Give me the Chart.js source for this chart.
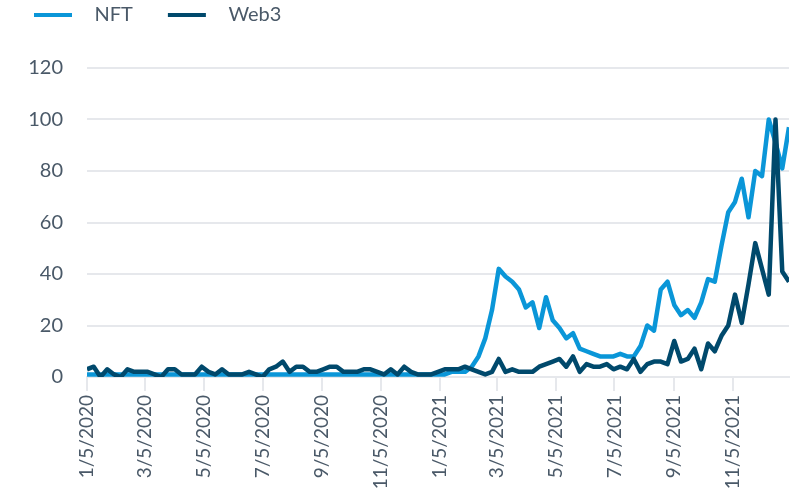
<!DOCTYPE html>
<html>
<head>
<meta charset="utf-8">
<script src="https://cdn.jsdelivr.net/npm/chart.js@4.4.1/dist/chart.umd.min.js"></script>
<style>
  html, body { margin: 0; padding: 0; background: #fff; }
  #wrap { width: 800px; height: 493px; }
</style>
</head>
<body>
<div id="wrap"><canvas id="trendChart"></canvas></div>
<script>
// weekly search interest, first week starting 1/5/2020
const firstWeek = '1/5/2020';

const tickLabels = ['1/5/2020', '3/5/2020', '5/5/2020', '7/5/2020', '9/5/2020', '11/5/2020',
  '1/5/2021', '3/5/2021', '5/5/2021', '7/5/2021', '9/5/2021', '11/5/2021'];

const nft = [
  1, 1, 1, 1, 1, 1, 1, 1, 1, 1,
  1, 1, 1, 1, 1, 1, 1, 1, 1, 1,
  1, 1, 1, 1, 1, 1, 1, 1, 1, 1,
  1, 1, 1, 1, 1, 1, 1, 1, 1, 1,
  1, 1, 1, 1, 1, 1, 1, 1, 1, 1,
  1, 1, 1, 1, 2, 2, 2, 4, 8, 15,
  26, 42, 39, 37, 34, 27, 29, 19, 31, 22,
  19, 15, 17, 11, 10, 9, 8, 8, 8, 9,
  8, 8, 12, 20, 18, 34, 37, 28, 24, 26,
  23, 29, 38, 37, 51, 64, 68, 77, 62, 80,
  78, 100, 91, 81, 97
];

const web3 = [
  3, 4, 0, 3, 1, 0, 3, 2, 2, 2,
  1, 0, 3, 3, 1, 1, 1, 4, 2, 1,
  3, 1, 1, 1, 2, 1, 0, 3, 4, 6,
  2, 4, 4, 2, 2, 3, 4, 4, 2, 2,
  2, 3, 3, 2, 1, 3, 1, 4, 2, 1,
  1, 1, 2, 3, 3, 3, 4, 3, 2, 1,
  2, 7, 2, 3, 2, 2, 2, 4, 5, 6,
  7, 4, 8, 2, 5, 4, 4, 5, 3, 4,
  3, 7, 2, 5, 6, 6, 5, 14, 6, 7,
  11, 3, 13, 10, 16, 20, 32, 21, 36, 52,
  42, 32, 100, 41, 37
];

function dayNumber(label) {
  const [m, d, y] = label.split('/').map(Number);
  return Date.UTC(y, m - 1, d) / 86400000;
}

const start = dayNumber(firstWeek);
const tickDays = tickLabels.map(t => dayNumber(t) - start);
const lastDay = (nft.length - 1) * 7;

const textColor = '#4a5968';
const gridColor = '#e6e8ec';
Chart.defaults.font.family = 'Lato, "Open Sans", sans-serif';
Chart.defaults.color = textColor;

// leave room between the legend and the plot
const legendGap = {
  id: 'legendGap',
  beforeInit(chart) {
    const fit = chart.legend.fit;
    chart.legend.fit = function () {
      fit.call(this);
      this.height += 33;
    };
  }
};

const ctx = document.getElementById('trendChart').getContext('2d');

new Chart(ctx, {
  type: 'line',
  data: {
    datasets: [{
      label: 'NFT',
      data: nft.map((v, i) => ({ x: i * 7, y: v })),
      borderColor: '#0a96d8',
      backgroundColor: '#0a96d8',
      borderWidth: 4.5,
      pointRadius: 0,
      borderJoinStyle: 'round',
      tension: 0,
      order: 1
    },
    {
      label: 'Web3',
      data: web3.map((v, i) => ({ x: i * 7, y: v })),
      borderColor: '#00496c',
      backgroundColor: '#00496c',
      borderWidth: 4.5,
      pointRadius: 0,
      borderJoinStyle: 'round',
      tension: 0,
      order: 0
    }]
  },
  options: {
    responsive: true,
    maintainAspectRatio: false,
    animation: false,
    layout: { padding: { left: 29, right: 11, top: 0, bottom: 0 } },
    plugins: {
      tooltip: { enabled: false },
      legend: {
        align: 'start',
        labels: {
          boxWidth: 38,
          boxHeight: 4,
          padding: 5,
          font: { size: 20 },
          generateLabels: chart => Chart.defaults.plugins.legend.labels.generateLabels(chart)
            .sort((a, b) => a.datasetIndex - b.datasetIndex)
            .map(item => Object.assign(item, {
              text: '\u2002\u2009' + item.text + (item.datasetIndex === 0 ? '\u2003\u2003' : ''),
              lineWidth: 0,
              fillStyle: item.strokeStyle
            }))
        }
      }
    },
    scales: {
      x: {
        type: 'linear',
        min: 0,
        max: lastDay,
        afterBuildTicks: axis => {
          axis.ticks = tickDays.map(d => ({ value: d }));
        },
        afterFit: scale => { scale.height = 116; },
        ticks: {
          autoSkip: false,
          minRotation: 90,
          maxRotation: 90,
          padding: 4,
          font: { size: 19 },
          callback: (value, index) => tickLabels[index]
        },
        grid: {
          drawOnChartArea: false,
          tickLength: 14,
          color: gridColor,
          lineWidth: 2
        },
        border: { color: gridColor, width: 2 }
      },
      y: {
        min: 0,
        max: 120,
        afterFit: scale => { scale.width = 58; },
        ticks: {
          stepSize: 20,
          padding: 24,
          font: { size: 20 }
        },
        grid: {
          drawTicks: false,
          color: gridColor,
          lineWidth: 2
        },
        border: { display: false }
      }
    }
  },
  plugins: [legendGap]
});
</script>
</body>
</html>
